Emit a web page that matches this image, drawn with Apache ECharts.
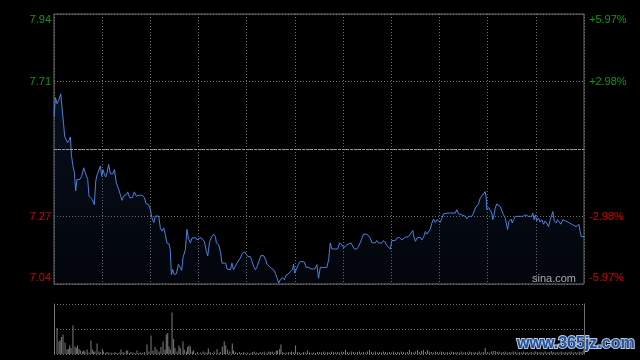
<!DOCTYPE html>
<html><head><meta charset="utf-8">
<script src="https://cdn.jsdelivr.net/npm/echarts@6/dist/echarts.min.js"></script>
<style>html,body{margin:0;padding:0;background:#000}#c{width:640px;height:360px}</style>
</head><body><div id="c"></div>
<script>
const prevClose = 7.49;
const priceMin = 7.043;
const priceMax = 7.937;
const sessionMinutes = 330;

const minutes = [0,0.9,1.9,2.9,4.2,5.0,6.0,6.7,7.7,8.5,9.3,10.2,10.8,11.8,12.7,13.5,14.3,16.0,17.2,18.5,19.5,21.0,21.8,22.7,23.7,25.1,26.0,26.8,27.8,28.9,29.7,30.5,31.4,32.2,33.0,34.0,35.1,36.7,37.6,38.8,40.3,41.3,42.3,43.4,45.1,45.9,47.1,48.8,50.0,51.3,52.1,53.3,55.0,56.3,57.3,58.9,60.0,61.0,62.1,63.1,65.2,66.2,67.2,68.3,69.3,70.3,71.6,72.4,73.1,73.9,74.9,76.2,77.4,78.7,79.5,80.3,81.8,82.8,
83.7,84.9,85.9,86.9,88.2,89.0,90.2,91.5,92.7,93.6,94.9,95.7,96.9,98.3,99.4,100.5,101.1,102.5,103.6,104.6,105.6,106.9,107.7,108.9,109.8,110.8,111.8,112.9,113.9,115.0,116.0,117.3,118.7,119.7,120.7,122.2,123.2,124.3,125.4,126.3,127.4,128.8,130.5,131.8,132.6,133.6,134.7,135.7,136.7,137.8,138.8,139.9,140.9,142.2,143.4,144.6,145.9,147.1,148.4,149.2,149.8,150.9,152.1,153.4,154.6,155.8,157.1,158.7,160.0,161.2,162.4,163.7,
164.7,165.8,167.9,169.9,171.0,172.0,173.0,174.5,176.6,177.8,179.3,180.3,181.4,182.4,183.4,184.9,186.1,187.0,188.6,189.6,190.7,191.7,192.8,194.8,195.9,196.9,197.9,199.0,200.0,201.0,202.1,203.2,204.1,205.2,206.3,207.3,208.3,209.4,210.4,211.4,212.5,213.5,215.2,216.6,217.6,218.7,220.8,221.8,222.8,223.4,224.3,225.1,225.9,227.0,228.0,229.0,230.1,231.2,232.2,233.2,234.3,235.3,236.3,237.4,238.4,239.4,240.5,241.5,242.6,
243.6,245.7,247.7,249.8,250.8,251.9,252.9,253.9,255.0,256.1,257.1,258.1,259.2,260.2,261.2,262.3,263.3,264.3,265.4,266.4,267.4,268.5,269.1,269.5,270.6,271.6,272.6,273.2,274.1,274.7,275.7,276.8,277.8,278.8,279.9,281.0,281.6,282.4,283.2,284.1,284.7,285.3,286.1,287.2,288.2,290.3,291.9,293.4,294.4,295.5,296.5,297.5,298.1,299.0,299.8,300.6,301.7,302.7,303.7,304.8,305.8,306.8,307.9,309.0,310.0,310.6,311.5,312.7,313.5,314.7,315.6,316.8,317.7,318.5,319.7,321.0,322.0,323.0,323.9,325.1,326.0,326.8,327.6,328.3,330];

const prices = [7.599,7.660,7.640,7.651,7.673,7.627,7.571,7.530,7.527,7.511,7.518,7.530,7.472,7.434,7.411,7.351,7.389,7.389,7.400,7.428,7.411,7.389,7.334,7.339,7.323,7.306,7.384,7.404,7.408,7.434,7.400,7.422,7.406,7.397,7.411,7.439,7.408,7.408,7.422,7.378,7.356,7.339,7.320,7.334,7.339,7.348,7.329,7.329,7.348,7.334,7.329,7.337,7.337,7.329,7.309,7.306,7.290,7.262,7.246,7.268,7.268,7.229,7.218,7.229,7.207,7.179,7.176,7.157,7.074,7.091,7.074,7.077,7.108,7.097,7.088,7.130,7.157,7.224,
7.195,7.179,7.195,7.189,7.197,7.189,7.195,7.197,7.197,7.184,7.151,7.136,7.184,7.200,7.208,7.200,7.179,7.173,7.151,7.112,7.107,7.112,7.093,7.096,7.090,7.112,7.090,7.087,7.112,7.118,7.129,7.145,7.149,7.145,7.134,7.134,7.120,7.101,7.090,7.098,7.101,7.137,7.137,7.123,7.109,7.107,7.098,7.101,7.090,7.079,7.064,7.046,7.057,7.064,7.057,7.073,7.076,7.084,7.090,7.109,7.079,7.079,7.107,7.118,7.118,7.116,7.098,7.098,7.093,7.087,7.093,7.107,
7.062,7.098,7.098,7.098,7.123,7.179,7.159,7.159,7.159,7.179,7.173,7.162,7.167,7.173,7.179,7.179,7.173,7.159,7.159,7.167,7.180,7.195,7.208,7.208,7.208,7.195,7.180,7.184,7.179,7.187,7.179,7.180,7.179,7.187,7.179,7.170,7.165,7.159,7.187,7.192,7.187,7.195,7.197,7.189,7.189,7.198,7.200,7.208,7.212,7.220,7.195,7.184,7.195,7.189,7.198,7.189,7.198,7.217,7.208,7.212,7.225,7.245,7.258,7.247,7.256,7.258,7.247,7.261,7.276,
7.278,7.278,7.278,7.278,7.289,7.275,7.278,7.272,7.278,7.267,7.259,7.267,7.261,7.267,7.278,7.294,7.300,7.308,7.328,7.333,7.341,7.349,7.328,7.289,7.296,7.294,7.278,7.256,7.275,7.294,7.308,7.305,7.300,7.300,7.272,7.261,7.245,7.223,7.250,7.245,7.258,7.245,7.256,7.267,7.267,7.267,7.267,7.272,7.278,7.267,7.272,7.267,7.278,7.256,7.272,7.252,7.261,7.248,7.256,7.241,7.252,7.245,7.233,7.256,7.272,7.283,7.252,7.245,7.256,7.259,7.241,7.256,7.261,7.252,7.250,7.245,7.248,7.239,7.245,7.233,7.228,7.241,7.217,7.200,7.200];

const volMinutes = [0.3,1.9,3.1,3.8,4.6,5.6,6.9,8.1,8.9,9.8,10.6,11.8,13.1,13.9,14.7,15.6,16.4,17.7,18.5,19.3,20.6,21.8,23.0,23.9,24.7,25.5,26.8,28.0,28.9,30.1,30.9,32.2,33.0,34.2,35.5,36.7,38.0,39.2,40.5,41.7,43.0,43.8,45.0,45.9,47.1,47.9,49.2,50.4,51.7,52.9,53.8,55.0,56.2,57.9,59.1,60.4,61.6,62.9,64.1,65.4,66.6,67.9,69.1,69.9,70.8,71.6,72.4,73.5,74.5,75.3,76.6,77.8,78.6,80.3,81.1,82.4,83.2,84.0,84.9,86.1,86.9,88.2,89.4,91.1,92.8,94.0,95.2,96.1,97.3,98.6,99.8,101.5,102.7,103.5,104.8,106.0,106.9,108.1,109.4,111.0,111.8,113.1,114.3,115.6,116.8,118.1,119.3,120.6,122.2,123.5,124.7,126.0,127.2,128.4,129.7,130.9,132.6,133.8,134.7,135.9,137.2,138.4,139.2,140.5,141.3,142.5,143.4,144.6,145.9,147.1,147.9,149.2,150.4,151.7,152.9,154.2,155.4,156.7,157.9,159.1,160.4,161.6,162.9,164.1,
165.4,166.6,167.9,169.1,170.4,171.6,172.8,174.1,175.3,176.6,177.8,179.1,180.3,181.5,182.8,184.0,185.3,186.5,187.8,189.0,190.2,191.5,192.7,194.0,195.2,196.5,197.7,198.9,200.2,201.4,202.7,203.9,205.2,206.4,207.6,208.9,210.1,211.4,212.6,213.9,215.1,216.3,217.6,218.8,220.1,221.3,222.6,223.8,225.0,226.3,227.5,228.8,230.0,231.3,232.5,233.7,235.0,236.2,237.5,238.7,240.0,241.2,242.4,243.7,244.9,246.2,247.4,248.7,249.9,251.1,252.4,253.6,254.9,256.1,257.4,258.6,259.8,261.1,262.3,263.6,264.8,266.1,267.3,268.5,269.8,271.0,272.3,273.5,274.8,276.0,277.2,278.5,279.7,281.0,282.2,283.5,284.7,285.9,287.2,288.4,289.7,290.9,292.2,293.4,294.6,295.9,297.1,298.4,299.6,300.9,302.1,303.3,304.6,305.8,307.1,308.3,309.6,310.8,312.0,313.3,314.5,315.8,317.0,318.3,319.5,320.7,322.0,323.2,324.5,325.7,327.0,328.2,329.4];

const volumes = [100,52,25,27,34,39,23,9,10,17,12,57,15,12,17,10,7,5,7,5,9,3,27,9,5,5,21,5,3,10,5,2,4,3,3,2,4,2,3,9,4,2,7,7,2,4,3,2,7,2,3,2,4,19,5,37,7,14,9,5,14,25,9,39,42,15,9,83,30,12,5,17,12,25,9,5,14,17,15,5,7,2,4,3,5,3,3,11,4,2,5,10,2,4,15,25,17,9,5,21,7,4,2,4,2,4,2,3,2,4,5,3,2,4,3,5,3,5,4,5,3,7,7,10,19,4,2,3,4,3,5,4,17,4,3,2,4,3,7,3,2,3,2,4,
4,3,5,3,4,3,5,4,3,4,3,5,4,8,4,3,5,4,3,4,5,3,4,3,5,8,4,3,5,3,4,3,5,4,3,4,3,5,3,4,3,5,4,3,4,8,4,3,5,8,4,6,8,4,8,5,4,3,5,4,3,5,4,3,4,3,5,4,3,4,3,5,3,4,3,5,4,3,4,3,5,3,4,12,4,3,5,6,6,4,5,3,4,5,3,4,3,5,4,3,4,3,5,3,4,3,4,3,5,4,3,4,3,5,3,4,6,4,3,4,3,5,3,4,3,4,5,3,4,3,5,4,6];

const upColor = '#0c9c0c', downColor = '#d20000';
const step = (priceMax - priceMin) / 4;

const linePts = minutes.map((m, i) => [m, prices[i]]);
const volPts = volMinutes.map((m, i) => [m, volumes[i]]);

function tickIndex(v) { return Math.round((v - priceMin) / step); }
function styleName(idx) {
  if (idx === 4) return 'gt';
  if (idx === 3) return 'g';
  if (idx === 1) return 'r';
  if (idx === 0) return 'rb';
  return null;
}
const font = 'Liberation Sans, Arial, sans-serif';
const rich = {
  g: { color: upColor, fontSize: 11, fontFamily: font },
  gt: { color: upColor, fontSize: 11, fontFamily: font, padding: [12, 0, 0, 0] },
  r: { color: downColor, fontSize: 11, fontFamily: font },
  rb: { color: downColor, fontSize: 11, fontFamily: font, padding: [0, 0, 12, 0] }
};
const dotted = { color: '#6f6f6f', width: 1, type: [1, 2] };

const chart = echarts.init(document.getElementById('c'), null, { renderer: 'canvas' });
chart.setOption({
  animation: false,
  backgroundColor: '#000',
  textStyle: { fontFamily: font },
  grid: [
    { left: 54, top: 14, width: 530, height: 270, show: true, borderColor: '#707070', borderWidth: 1, backgroundColor: 'transparent' },
    { left: 54, top: 304, width: 530, height: 50 }
  ],
  xAxis: [
    { type: 'value', gridIndex: 0, min: 0, max: sessionMinutes, interval: 30,
      axisLine: { show: false }, axisTick: { show: false }, axisLabel: { show: false },
      splitLine: { show: true, lineStyle: dotted } },
    { type: 'value', gridIndex: 1, min: 0, max: sessionMinutes, interval: 30,
      axisLine: { show: false }, axisTick: { show: false }, axisLabel: { show: false },
      splitLine: { show: false } }
  ],
  yAxis: [
    { type: 'value', gridIndex: 0, position: 'left', min: priceMin, max: priceMax, interval: step,
      axisLine: { show: false }, axisTick: { show: false },
      splitLine: { show: true, lineStyle: dotted },
      axisLabel: { margin: 3, rich: rich, formatter: v => {
        const i = tickIndex(v); const s = styleName(i);
        return s ? '{' + s + '|' + v.toFixed(2) + '}' : '';
      } } },
    { type: 'value', gridIndex: 0, position: 'right', min: priceMin, max: priceMax, interval: step,
      axisLine: { show: false }, axisTick: { show: false }, splitLine: { show: false },
      axisLabel: { margin: 5, rich: rich, formatter: v => {
        const i = tickIndex(v); const s = styleName(i);
        const pct = (v / prevClose - 1) * 100;
        return s ? '{' + s + '|' + (pct > 0 ? '+' : '') + pct.toFixed(2) + '%}' : '';
      } } },
    { type: 'value', gridIndex: 1, position: 'left', min: 0, max: 100, interval: 50,
      axisLine: { show: true, lineStyle: { color: '#707070' } }, axisTick: { show: false }, axisLabel: { show: false },
      splitLine: { show: true, lineStyle: dotted } },
    { type: 'value', gridIndex: 1, position: 'right', min: 0, max: 100, interval: 50,
      axisLine: { show: true, lineStyle: { color: '#707070' } }, axisTick: { show: false }, axisLabel: { show: false },
      splitLine: { show: false } }
  ],
  series: [
    { type: 'line', xAxisIndex: 0, yAxisIndex: 0, data: linePts, showSymbol: false, symbol: 'none',
      lineStyle: { color: '#4a82df', width: 1 },
      areaStyle: { origin: 'start', color: new echarts.graphic.LinearGradient(0, 0, 0, 1, [
        { offset: 0, color: 'rgba(30,60,120,0.35)' }, { offset: 1, color: 'rgba(30,60,120,0.12)' }]) },
      markLine: { silent: true, symbol: 'none', label: { show: false },
        lineStyle: { color: '#9a9a9a', width: 1, type: [3, 1] },
        data: [{ yAxis: prevClose }] } },
    { type: 'bar', xAxisIndex: 1, yAxisIndex: 2, data: volPts, barWidth: 1,
      itemStyle: { color: '#7c7c7c' } }
  ],
  graphic: [
    { type: 'text', left: 532, top: 273, style: { text: 'sina.com', fill: '#b4b4b4', font: '11px ' + font } },
    { type: 'text', left: 516, top: 335, style: { text: 'www.365jz.com', fill: '#23509c', stroke: '#b8c8e0', lineWidth: 2, font: 'bold 16px ' + font } }
  ]
});
</script></body></html>
